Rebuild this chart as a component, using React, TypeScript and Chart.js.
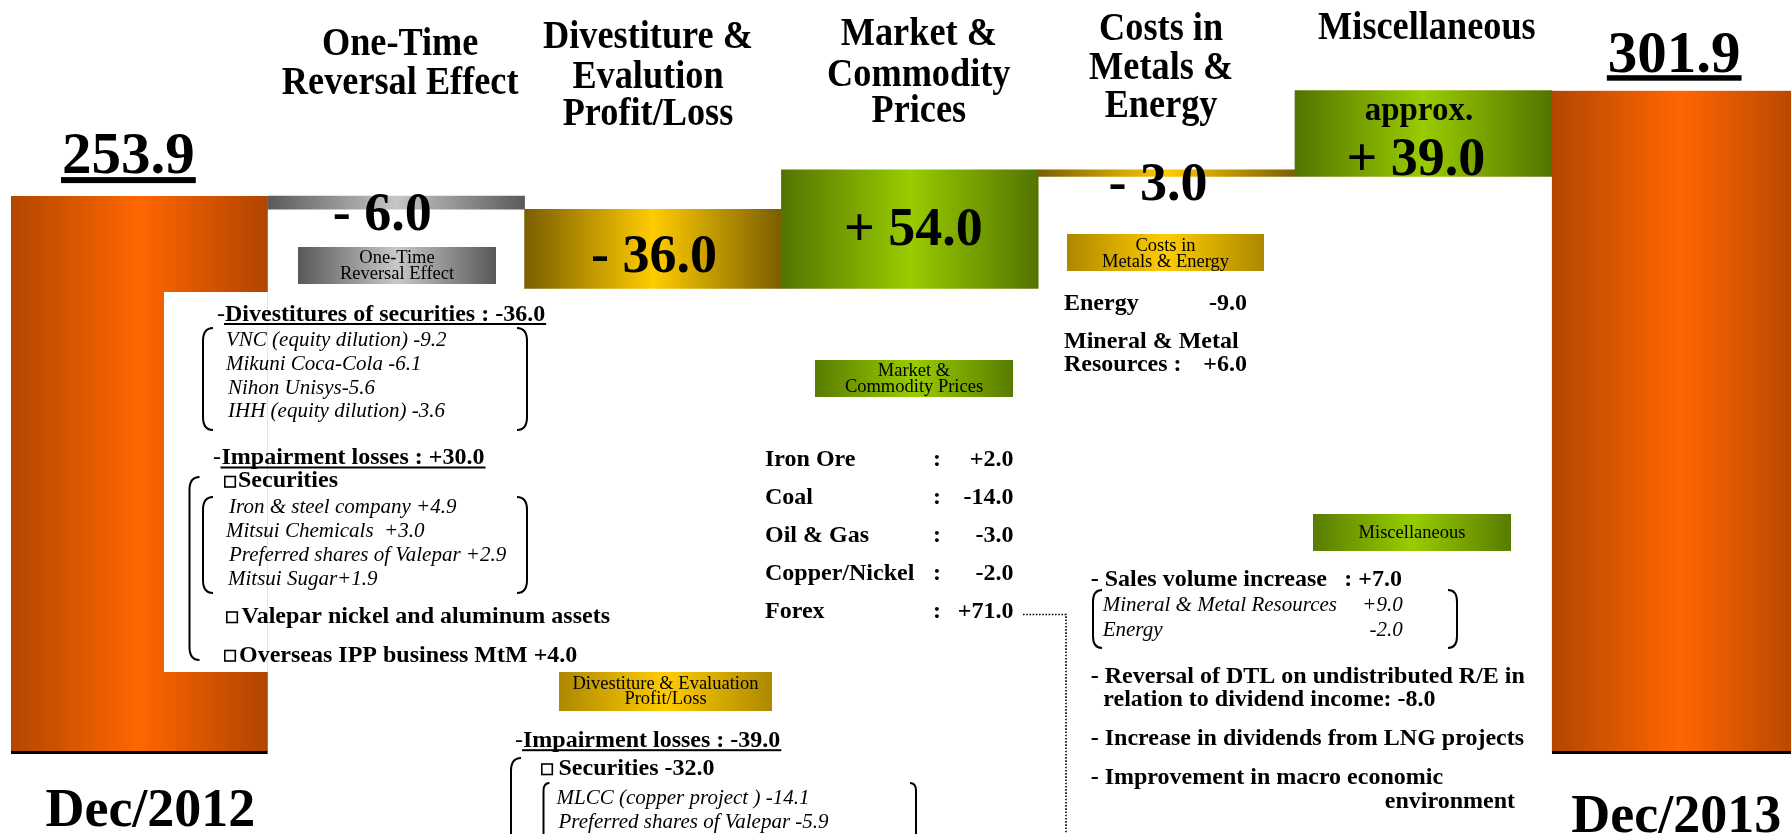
import React, { useEffect, useRef } from 'react';
import { Chart, registerables } from 'chart.js';

Chart.register(...registerables);

// ---------------- data ----------------
const categories = [
  'Dec/2012',
  'One-Time Reversal Effect',
  'Divestiture & Evalution Profit/Loss',
  'Market & Commodity Prices',
  'Costs in Metals & Energy',
  'Miscellaneous',
  'Dec/2013',
];
const startTotal = 253.9;
const endTotal = 301.9;
const changes = [-6.0, -36.0, 54.0, -3.0, 39.0];
const barKinds = ['total', 'gray', 'gold', 'green', 'gold', 'green', 'total'];

const titleLines = [
  [],
  ['One-Time', 'Reversal Effect'],
  ['Divestiture &', 'Evalution', 'Profit/Loss'],
  ['Market &', 'Commodity', 'Prices'],
  ['Costs in', 'Metals &', 'Energy'],
  ['Miscellaneous'],
  [],
];
const tagLines = {
  oneTime: ['One-Time', 'Reversal Effect'],
  costs: ['Costs in', 'Metals & Energy'],
  market: ['Market &', 'Commodity Prices'],
  misc: ['Miscellaneous'],
  divest: ['Divestiture & Evaluation', 'Profit/Loss'],
};
const divestHeading = 'Divestitures of securities : -36.0';
const divestItems = ['VNC (equity dilution) -9.2', 'Mikuni Coca-Cola -6.1', 'Nihon Unisys-5.6', 'IHH (equity dilution) -3.6'];
const gainHeading = 'Impairment losses : +30.0';
const gainItems = ['Iron & steel company +4.9', 'Mitsui Chemicals  +3.0', 'Preferred shares of Valepar +2.9', 'Mitsui Sugar+1.9'];
const gainBullets = ['Securities', 'Valepar nickel and aluminum assets', 'Overseas IPP business MtM +4.0'];
const lossHeading = 'Impairment losses : -39.0';
const lossBullet = 'Securities -32.0';
const lossItems = ['MLCC (copper project ) -14.1', 'Preferred shares of Valepar -5.9'];
const marketItems: [string, string][] = [
  ['Iron Ore', '+2.0'],
  ['Coal', '-14.0'],
  ['Oil & Gas', '-3.0'],
  ['Copper/Nickel', '-2.0'],
  ['Forex', '+71.0'],
];
const costItems: [string[], string][] = [
  [['Energy'], '-9.0'],
  [['Mineral & Metal', 'Resources :'], '+6.0'],
];
const salesHeading: [string, string] = ['- Sales volume increase', ': +7.0'];
const salesItems: [string, string][] = [
  ['Mineral & Metal Resources', '+9.0'],
  ['Energy', '-2.0'],
];
const miscNotes = [
  ['- Reversal of DTL on undistributed R/E in', 'relation to dividend income: -8.0'],
  ['- Increase in dividends from LNG projects'],
  ['- Improvement in macro economic', 'environment'],
];

// floating ranges of the waterfall, derived from the values above
const ranges: [number, number][] = [[0, startTotal]];
{
  let run = startTotal;
  changes.forEach((c) => {
    const next = run + c;
    ranges.push([Math.min(run, next), Math.max(run, next)]);
    run = next;
  });
  ranges.push([0, endTotal]);
}

// ---------------- styles ----------------
const SERIF = '"Liberation Serif", "Times New Roman", Times, serif';
const palettes: Record<string, string[]> = {
  total: ['#b24700', '#ff6600', '#b04400'],
  gray: ['#5a5a5a', '#c6c6c6', '#5a5a5a'],
  gold: ['#7a5e00', '#ffcc00', '#7a5e00'],
  green: ['#527400', '#99cc00', '#527400'],
  grayTag: ['#585858', '#c8c8c8', '#585858'],
  goldTag: ['#ad8800', '#ffcc00', '#ad8800'],
  greenTag: ['#587c00', '#99cc00', '#587c00'],
};

function grad(ctx: CanvasRenderingContext2D, x0: number, x1: number, kind: string) {
  const g = ctx.createLinearGradient(x0, 0, x1, 0);
  const p = palettes[kind];
  g.addColorStop(0, p[0]);
  g.addColorStop(0.5, p[1]);
  g.addColorStop(1, p[2]);
  return g;
}

type TOpt = { size: number; bold?: boolean; italic?: boolean; align?: 'left' | 'center' | 'right'; sx?: number; ul?: [number, number] };
function txt(ctx: CanvasRenderingContext2D, s: string, x: number, y: number, o: TOpt) {
  ctx.save();
  ctx.font = `${o.italic ? 'italic ' : ''}${o.bold ? 'bold ' : ''}${o.size}px ${SERIF}`;
  ctx.fillStyle = '#000';
  ctx.textAlign = 'left';
  ctx.textBaseline = 'alphabetic';
  const sx = o.sx ?? 1;
  const w = ctx.measureText(s).width * sx;
  const left = o.align === 'center' ? x - w / 2 : o.align === 'right' ? x - w : x;
  ctx.translate(left, y);
  ctx.scale(sx, 1);
  ctx.fillText(s, 0, 0);
  ctx.restore();
  if (o.ul) {
    ctx.save();
    ctx.fillStyle = '#000';
    ctx.fillRect(left - 1, y + o.ul[0], w + 2, o.ul[1]);
    ctx.restore();
  }
  return left + w;
}

function bracket(ctx: CanvasRenderingContext2D, x: number, top: number, bottom: number, d: number, w = 10) {
  ctx.save();
  ctx.strokeStyle = '#000';
  ctx.lineWidth = 2;
  ctx.beginPath();
  const r = Math.min(w * 1.3, (bottom - top) / 2);
  ctx.moveTo(x + d * w, top);
  ctx.quadraticCurveTo(x, top, x, top + r);
  ctx.lineTo(x, bottom - r);
  ctx.quadraticCurveTo(x, bottom, x + d * w, bottom);
  ctx.stroke();
  ctx.restore();
}

function bullet(ctx: CanvasRenderingContext2D, x: number, baseline: number) {
  ctx.save();
  ctx.strokeStyle = '#000';
  ctx.lineWidth = 1.6;
  ctx.strokeRect(x + 0.8, baseline - 11.5, 10.5, 10.5);
  ctx.restore();
}

function tag(ctx: CanvasRenderingContext2D, x: number, y: number, w: number, h: number, kind: string, lines: string[], baselines: number[]) {
  ctx.save();
  ctx.fillStyle = grad(ctx, x, x + w, kind);
  ctx.fillRect(x, y, w, h);
  ctx.restore();
  lines.forEach((s, k) => txt(ctx, s, x + w / 2, baselines[k], { size: 18.5, align: 'center' }));
}

// layout of labels relative to the bars
const titleLayout = [
  null,
  { dx: 4, ys: [55, 94.3] },
  { dx: -5, ys: [48.3, 88.3, 125] },
  { dx: 9, ys: [45, 86, 121.7] },
  { dx: -5.5, ys: [40, 79, 116.7] },
  { dx: 3.5, ys: [39.3] },
  null,
];

const annotations = {
  id: 'annotations',
  afterDatasetsDraw(chart: any) {
    const ctx: CanvasRenderingContext2D = chart.ctx;
    const el = chart.getDatasetMeta(0).data[0].getProps(['x', 'width'], true);
    ctx.save();
    ctx.fillStyle = '#ffffff';
    ctx.fillRect(164, 292, el.x + el.width / 2 - 164, 380);
    ctx.restore();
  },
  afterDraw(chart: any) {
    const ctx: CanvasRenderingContext2D = chart.ctx;
    const bars = chart.getDatasetMeta(0).data.map((e: any) => {
      const p = e.getProps(['x', 'y', 'base', 'width'], true);
      return { cx: p.x, top: Math.min(p.y, p.base), bottom: Math.max(p.y, p.base) };
    });

    // category titles
    titleLines.forEach((lines, i) => {
      const L = titleLayout[i];
      if (!L) return;
      lines.forEach((s, k) => txt(ctx, s, bars[i].cx + L.dx, L.ys[k], { size: 39, bold: true, align: 'center', sx: 0.93 }));
    });

    // totals
    const fmt = (v: number) => (v < 0 ? '- ' : '+ ') + Math.abs(v).toFixed(1);
    txt(ctx, startTotal.toFixed(1), bars[0].cx - 11, bars[0].top - 23, { size: 59, bold: true, align: 'center', ul: [4, 6] });
    txt(ctx, endTotal.toFixed(1), bars[6].cx - 6, bars[6].top - 19, { size: 59, bold: true, align: 'center', ul: [3.5, 5.5] });
    txt(ctx, categories[0], bars[0].cx + 11, bars[0].bottom + 72.5, { size: 54, bold: true, align: 'center' });
    txt(ctx, categories[6], bars[6].cx - 4, bars[6].bottom + 78.5, { size: 54, bold: true, align: 'center' });

    // change labels
    txt(ctx, fmt(changes[0]), bars[1].cx - 14, bars[1].bottom + 20.7, { size: 54, bold: true, align: 'center' });
    txt(ctx, fmt(changes[1]), bars[2].cx + 1, (bars[2].top + bars[2].bottom) / 2 + 22.8, { size: 54, bold: true, align: 'center' });
    txt(ctx, fmt(changes[2]), bars[3].cx + 3.5, (bars[3].top + bars[3].bottom) / 2 + 16, { size: 54, bold: true, align: 'center' });
    txt(ctx, fmt(changes[3]), bars[4].cx - 8.5, bars[4].bottom + 23.6, { size: 54, bold: true, align: 'center' });
    txt(ctx, 'approx.', bars[5].cx - 4.5, bars[5].top + 29.3, { size: 33, bold: true, align: 'center' });
    txt(ctx, fmt(changes[4]), bars[5].cx - 7.5, bars[5].bottom - 1.4, { size: 54, bold: true, align: 'center' });

    // tags
    tag(ctx, 298, 247, 198, 37, 'grayTag', tagLines.oneTime, [263.3, 279.3]);
    tag(ctx, 1067, 234, 197, 37, 'goldTag', tagLines.costs, [250.7, 266.7]);
    tag(ctx, 815, 360, 198, 37, 'greenTag', tagLines.market, [376, 391.7]);
    tag(ctx, 1313, 514, 198, 37, 'greenTag', tagLines.misc, [538.2]);
    tag(ctx, 559, 672, 213, 39, 'goldTag', tagLines.divest, [689.3, 704.3]);

    // left block: divestitures
    txt(ctx, '-', 217, 321, { size: 24 });
    txt(ctx, divestHeading, 225, 321, { size: 24, bold: true, ul: [2, 2] });
    bracket(ctx, 203, 328, 430, 1);
    bracket(ctx, 527, 328, 430, -1);
    const dx1 = [226, 226, 228, 228];
    divestItems.forEach((s, k) => txt(ctx, s, dx1[k], 345.7 + k * 23.9, { size: 21, italic: true }));

    // left block: impairment gains
    txt(ctx, '-', 213, 464, { size: 24 });
    txt(ctx, gainHeading, 221.5, 464, { size: 24, bold: true, ul: [2.5, 2] });
    bullet(ctx, 224, 488);
    txt(ctx, gainBullets[0], 238, 487.3, { size: 24, bold: true });
    bracket(ctx, 189.5, 477, 660, 1);
    bracket(ctx, 203, 497, 593, 1);
    bracket(ctx, 527, 497, 593, -1);
    const dx2 = [229, 226, 229, 228];
    gainItems.forEach((s, k) => txt(ctx, s, dx2[k], 513.3 + k * 23.9, { size: 21, italic: true }));
    bullet(ctx, 226, 623.5);
    txt(ctx, gainBullets[1], 241.5, 623.3, { size: 24, bold: true });
    bullet(ctx, 224, 662);
    txt(ctx, gainBullets[2], 239, 661.7, { size: 24, bold: true });

    // middle: market table
    marketItems.forEach(([lab, val], k) => {
      const y = 466 + k * 38.1;
      txt(ctx, lab, 765, y, { size: 24, bold: true });
      txt(ctx, ':', 933, y, { size: 24, bold: true });
      txt(ctx, val, 1013.5, y, { size: 24, bold: true, align: 'right' });
    });
    ctx.save();
    ctx.strokeStyle = '#000';
    ctx.lineWidth = 1.6;
    ctx.setLineDash([1.6, 1.6]);
    ctx.beginPath();
    ctx.moveTo(1023, 614.5);
    ctx.lineTo(1066, 614.5);
    ctx.lineTo(1066, 834);
    ctx.stroke();
    ctx.restore();

    // middle: impairment losses
    txt(ctx, '-', 515, 746.7, { size: 24 });
    txt(ctx, lossHeading, 523, 746.7, { size: 24, bold: true, ul: [2.5, 2] });
    bullet(ctx, 541, 775.5);
    txt(ctx, lossBullet, 558.5, 775, { size: 24, bold: true });
    bracket(ctx, 511, 758, 900, 1);
    bracket(ctx, 543.5, 783, 900, 1, 6);
    bracket(ctx, 916, 783, 900, -1, 6);
    const dx3 = [556.5, 558.5];
    lossItems.forEach((s, k) => txt(ctx, s, dx3[k], 804 + k * 24.3, { size: 21, italic: true }));

    // right: costs breakdown
    txt(ctx, costItems[0][0][0], 1064, 310, { size: 24, bold: true });
    txt(ctx, costItems[0][1], 1247, 310, { size: 24, bold: true, align: 'right' });
    txt(ctx, costItems[1][0][0], 1064, 347.7, { size: 24, bold: true });
    txt(ctx, costItems[1][0][1], 1064, 370.7, { size: 24, bold: true });
    txt(ctx, costItems[1][1], 1247, 370.7, { size: 24, bold: true, align: 'right' });

    // right: miscellaneous
    txt(ctx, salesHeading[0], 1090.7, 586, { size: 24, bold: true });
    txt(ctx, salesHeading[1], 1402, 586, { size: 24, bold: true, align: 'right' });
    bracket(ctx, 1093, 590, 648, 1, 9);
    bracket(ctx, 1457, 590, 648, -1, 9);
    salesItems.forEach(([lab, val], k) => {
      const y = 610.7 + k * 24.8;
      txt(ctx, lab, 1102.7, y, { size: 21, italic: true });
      txt(ctx, val, 1402.7, y, { size: 21, italic: true, align: 'right' });
    });
    txt(ctx, miscNotes[0][0], 1090.7, 682.5, { size: 24, bold: true });
    txt(ctx, miscNotes[0][1], 1103.3, 706.2, { size: 24, bold: true });
    txt(ctx, miscNotes[1][0], 1090.7, 745.2, { size: 24, bold: true });
    txt(ctx, miscNotes[2][0], 1090.7, 784, { size: 24, bold: true });
    txt(ctx, miscNotes[2][1], 1515, 807.8, { size: 24, bold: true, align: 'right' });
  },
};

// scale ranges (value 0 sits at the bars' common base)
const Y_MIN = -36.57;
const Y_MAX = 343.2;
const X_MIN = -0.5428;
const X_MAX = 6.4315;

export default function App() {
  const ref = useRef<HTMLCanvasElement>(null);
  useEffect(() => {
    const canvas = ref.current!;
    const chart = new Chart(canvas, {
      type: 'bar',
      data: {
        datasets: [
          {
            data: ranges.map((r, i) => ({ x: i, y: r })) as any,
            backgroundColor: (c: any) => {
              const ch = c.chart;
              const i = c.dataIndex;
              const xs = ch.scales?.x;
              if (i === undefined || !xs || !ch.chartArea) return '#ff6600';
              return grad(ch.ctx, xs.getPixelForValue(i - 0.5), xs.getPixelForValue(i + 0.5), barKinds[i]);
            },
            borderColor: '#000000',
            borderWidth: (c: any) => (barKinds[c.dataIndex] === 'total' ? { top: 0, left: 0, right: 0, bottom: 3 } : 0),
            borderSkipped: false,
            barPercentage: 1,
            categoryPercentage: 1,
          } as any,
        ],
      },
      options: {
        responsive: false,
        animation: false,
        devicePixelRatio: 1,
        events: [],
        layout: { padding: 0 },
        scales: {
          x: {
            type: 'linear',
            min: X_MIN,
            max: X_MAX,
            offset: false,
            display: false,
            afterBuildTicks: (s: any) => {
              s.ticks = categories.map((_, i) => ({ value: i }));
            },
          },
          y: { type: 'linear', min: Y_MIN, max: Y_MAX, display: false },
        },
        plugins: { legend: { display: false }, tooltip: { enabled: false } },
      } as any,
      plugins: [annotations],
    });
    return () => chart.destroy();
  }, []);
  return (
    <div style={{ position: 'fixed', left: 0, top: 0, width: 1791, height: 834, overflow: 'hidden', background: '#ffffff' }}>
      <canvas ref={ref} width={1791} height={834} style={{ display: 'block', width: 1791, height: 834 }} />
    </div>
  );
}
